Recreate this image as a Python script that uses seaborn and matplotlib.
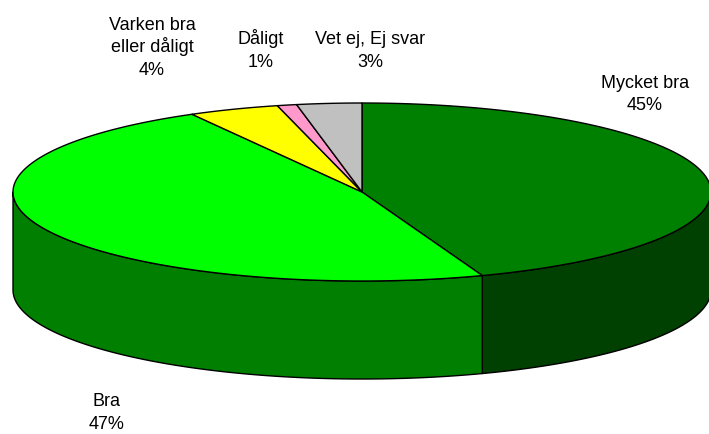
import numpy as np
import matplotlib
matplotlib.use("Agg")
import matplotlib.pyplot as plt
from matplotlib.patches import Polygon
import seaborn as sns

# ---- data ----
categories = ["Mycket bra", "Bra", "Varken bra\neller dåligt", "Dåligt", "Vet ej, Ej svar"]
values = [44.4, 47.5, 4.2, 0.9, 3.0]
label_pct = [45, 47, 4, 1, 3]
top_colors = ["#008000", "#00FF00", "#FFFF00", "#FF99CC", "#C0C0C0"]
side_colors = ["#004000", "#007F00", "#7F7F00", "#7F4C66", "#606060"]

sns.set_theme(style="white")
plt.rcParams['font.family'] = ['Liberation Sans', 'DejaVu Sans']

W, H = 709, 434
fig = plt.figure(figsize=(W / 100, H / 100), dpi=100)
ax = fig.add_axes([0, 0, 1, 1])
ax.set_xlim(0, W)
ax.set_ylim(H, 0)
ax.axis("off")

cx, cy, rx, ry, depth = 362.0, 192.0, 349.0, 89.0, 98.0

def pt(theta_deg, dy=0.0):
    t = np.deg2rad(theta_deg)
    return cx + rx * np.cos(t), cy - ry * np.sin(t) + dy

# angles: start at 90 deg, go clockwise
total = sum(values)
starts, ends = [], []
a = 90.0
for v in values:
    b = a - v / total * 360.0
    starts.append(a)
    ends.append(b)
    a = b

# side faces (visible for angles in [-180, 0] modulo 360)
for s, e, col in zip(starts, ends, side_colors):
    for k in (0, 360):
        lo = max(e + k, -180.0)
        hi = min(s + k, 0.0)
        if hi > lo:
            th = np.linspace(lo, hi, 200)
            top = [pt(t) for t in th]
            bot = [pt(t, depth) for t in th[::-1]]
            ax.add_patch(Polygon(top + bot, closed=True, facecolor=col,
                                 edgecolor="black", linewidth=1.0, joinstyle="round"))

# top faces
for s, e, col in zip(starts, ends, top_colors):
    th = np.linspace(s, e, 300)
    pts = [(cx, cy)] + [pt(t) for t in th]
    ax.add_patch(Polygon(pts, closed=True, facecolor=col, edgecolor="black",
                         linewidth=1.0, joinstyle="round"))

# labels (x centre, baseline of last line)
label_pos = [(645, 110), (107, 429), (152, 75), (261, 67), (370, 67)]
pitch = 22.5
for cat, p, (lx, ly) in zip(categories, label_pct, label_pos):
    lines = cat.split("\n") + [f"{p}%"]
    n = len(lines)
    for i, line in enumerate(lines):
        ax.text(lx, ly - (n - 1 - i) * pitch, line, ha="center", va="baseline",
                fontsize=13, color="black")

fig.savefig("out.png", dpi=100)
